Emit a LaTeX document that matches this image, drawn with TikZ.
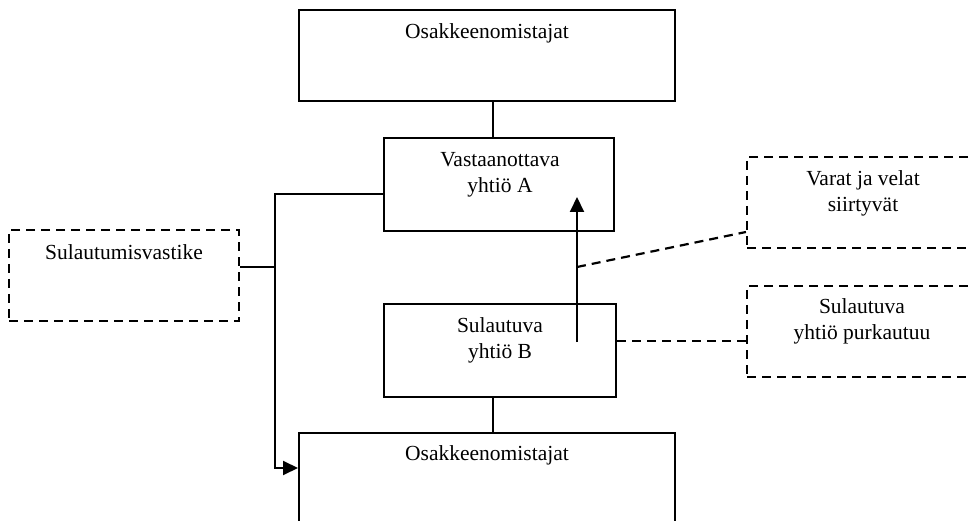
\documentclass[tikz,border=0pt]{standalone}
\usepackage{fontspec}
\setmainfont{Liberation Serif}
\usetikzlibrary{arrows.meta}

\begin{document}
\begin{tikzpicture}[x=1pt,y=-1pt,
  box/.style={draw,line width=2pt,inner sep=0pt},
  dbox/.style={box,line width=2.2pt,dash pattern=on 9pt off 6pt},
  conn/.style={line width=2pt},
  dconn/.style={line width=2.2pt,dash pattern=on 9pt off 6pt},
  tip/.style={-{Triangle[length=15pt,width=14pt]}},
  lbl/.style={align=center,inner sep=0pt,font=\fontsize{21.5}{26}\selectfont}]
\useasboundingbox (0,0) rectangle (969,521);
\clip (0,0) rectangle (969,521);
% laatikot
\node[box,minimum width=376pt,minimum height=91pt] (own1) at (487,55.5) {};
\node[box,minimum width=230pt,minimum height=93pt] (yhtA) at (499,184.5) {};
\node[box,minimum width=232pt,minimum height=93pt] (yhtB) at (500,350.5) {};
\node[box,minimum width=376pt,minimum height=100pt] (own2) at (487,483) {};
\node[dbox,minimum width=230pt,minimum height=91pt] (vastike) at (124,275.5) {};
\node[dbox,minimum width=230pt,minimum height=91pt] (varat) at (862,202.5) {};
\node[dbox,minimum width=230pt,minimum height=91pt] (purku) at (862,331.5) {};
% tekstit
\node[lbl] (t1) at (487,33) {Osakkeenomistajat};
\node[lbl] (tA) at (500,175) {Vastaanottava\\yhtiö A};
\node[lbl] (tB) at (500,340) {Sulautuva\\yhtiö B};
\node[lbl] (t2) at (487,455) {Osakkeenomistajat};
\node[lbl] (tv) at (124,252) {Sulautumisvastike};
\node[lbl] (tr) at (863,193) {Varat ja velat\\siirtyvät};
\node[lbl] (tp) at (862,321.5) {Sulautuva\\yhtiö purkautuu};
% apupisteet
\coordinate (haara) at (275,267);
\coordinate (siirtoB) at (577,342);
\coordinate (siirtoM) at (577,267);
\coordinate (siirtoA) at (577,197);
% viivat
\draw[conn] ([xshift=-6pt]yhtA.north) -- ([xshift=-6pt]yhtA.north |- own1.south);
\draw[conn] ([xshift=-7pt]yhtB.south) -- ([xshift=-7pt]yhtB.south |- own2.north);
\draw[conn,tip] ([yshift=-9.5pt]yhtA.west) -| (haara) |- ([yshift=15pt]own2.west);
\draw[conn] ([yshift=8.5pt]vastike.east) -- (haara);
\draw[conn,tip] (siirtoB) -- (siirtoA);
\draw[dconn] (siirtoM) -- ([yshift=-29.5pt]varat.west);
\draw[dconn] ([yshift=9.5pt]yhtB.east) -- ([yshift=-9.5pt]purku.west);
\end{tikzpicture}
\end{document}
